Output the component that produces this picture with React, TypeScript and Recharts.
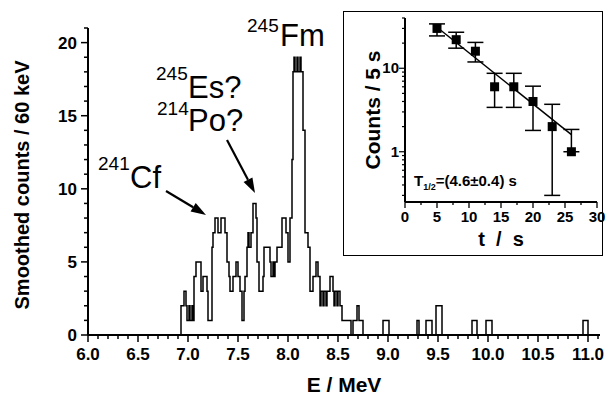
import React from "react";
import {
  LineChart,
  Line,
  XAxis,
  YAxis,
  ComposedChart,
  Scatter,
  ErrorBar,
} from "recharts";

const FONT = '"Liberation Sans", Arial, sans-serif';

// main spectrum: step edges (MeV) and smoothed counts from that edge on
const energyEdges = [
  6.0, 6.93, 6.96, 6.98, 6.99, 7.01, 7.02, 7.04, 7.05, 7.06,
  7.08, 7.13, 7.15, 7.19, 7.2, 7.24, 7.25, 7.27, 7.3, 7.33,
  7.37, 7.39, 7.41, 7.42, 7.45, 7.48, 7.5, 7.52, 7.54, 7.56,
  7.57, 7.59, 7.6, 7.61, 7.63, 7.65, 7.68, 7.69, 7.71, 7.75,
  7.76, 7.82, 7.83, 7.85, 7.86, 7.87, 7.89, 7.94, 7.98, 8.0,
  8.02, 8.04, 8.05, 8.06, 8.07, 8.09, 8.1, 8.12, 8.13, 8.15,
  8.17, 8.2, 8.22, 8.25, 8.28, 8.3, 8.32, 8.33, 8.35, 8.36,
  8.38, 8.39, 8.42, 8.45, 8.46, 8.47, 8.49, 8.5, 8.52, 8.54,
  8.63, 8.65, 8.69, 8.71, 8.75, 8.95, 9.01, 9.29, 9.31, 9.38,
  9.44, 9.48, 9.54, 9.84, 9.89, 9.98, 10.04, 10.95, 11.0, 11.12,
];
const smoothedCounts = [
  0, 2, 3, 2, 1, 2, 1, 2, 1, 4,
  5, 3, 4, 3, 1, 6, 7, 8, 7, 8,
  7, 5, 4, 3, 4, 5, 4, 3, 1, 3,
  4, 6, 7, 6, 7, 9, 8, 5, 3, 4,
  6, 5, 4, 5, 4, 5, 6, 8, 7, 5,
  8, 12, 18, 19, 18, 19, 18, 19, 18, 14,
  7, 6, 3, 4, 5, 4, 2, 3, 2, 3,
  2, 3, 4, 3, 2, 3, 2, 3, 2, 1,
  0, 1, 2, 1, 0, 1, 0, 1, 0, 1,
  0, 2, 0, 1, 0, 1, 0, 1, 0, 0,
];
const energyLabels = [6.0, 6.5, 7.0, 7.5, 8.0, 8.5, 9.0, 9.5, 10.0, 10.5, 11.0];
const countLabels = [0, 5, 10, 15, 20];

// inset: decay curve
const decayTimes = [5, 8, 11, 14, 17, 20, 23, 26];
const decayCounts = [30, 22, 16, 6, 6, 4, 2, 1];
const decayErrLow = [5.6, 4.6, 4.1, 2.6, 2.6, 2.2, 1.7, 0];
const decayErrHigh = [4, 5, 4.4, 2.7, 2.7, 2.1, 1.7, 0.85];
const fitTimes = [5, 26];
const fitCounts = [31, 1.6];
const timeLabels = [0, 5, 10, 15, 20, 25, 30];
const decayLabels = [1, 10];

const histData = energyEdges.map((e, i) => ({ e, c: smoothedCounts[i] }));
const decayData = decayTimes.map((t, i) => ({
  t,
  n: decayCounts[i],
  err: [decayErrLow[i], decayErrHigh[i]],
}));
const fitData = fitTimes.map((t, i) => ({ t, n: fitCounts[i] }));

const energyTicks = Array.from({ length: 52 }, (_, i) => Math.round(60 + i) / 10);
const countTicks = Array.from({ length: 22 }, (_, i) => i);
const timeTicks = Array.from({ length: 13 }, (_, i) => i * 2.5);
const decayTicks = [
  0.3, 0.4, 0.5, 0.6, 0.7, 0.8, 0.9, 1, 2, 3, 4, 5, 6, 7, 8, 9, 10, 20, 30, 40,
];

const near = (list: number[], v: number) => list.some((m) => Math.abs(m - v) < 1e-6);

function EnergyTick({ x, y, payload }: any) {
  const major = near(energyLabels, payload.value);
  return (
    <g>
      <line x1={x} x2={x} y1={y} y2={y + (major ? 7 : 4)} stroke="#000" strokeWidth={1.5} />
      {major && (
        <text x={x} y={y + 25} textAnchor="middle" fontSize={17} fontWeight="bold" fill="#000">
          {payload.value.toFixed(1)}
        </text>
      )}
    </g>
  );
}

function CountTick({ x, y, payload }: any) {
  const major = near(countLabels, payload.value);
  return (
    <g>
      <line x1={x} x2={x - (major ? 7 : 4)} y1={y} y2={y} stroke="#000" strokeWidth={1.5} />
      {major && (
        <text x={x - 11} y={y + 6} textAnchor="end" fontSize={17} fontWeight="bold" fill="#000">
          {payload.value}
        </text>
      )}
    </g>
  );
}

function TimeTick({ x, y, payload }: any) {
  const major = near(timeLabels, payload.value);
  return (
    <g>
      <line x1={x} x2={x} y1={y} y2={y + (major ? 6 : 3)} stroke="#000" strokeWidth={1.3} />
      {major && (
        <text x={x} y={y + 20} textAnchor="middle" fontSize={15} fontWeight="bold" fill="#000">
          {payload.value}
        </text>
      )}
    </g>
  );
}

function DecayTick({ x, y, payload }: any) {
  const major = near(decayLabels, payload.value);
  return (
    <g>
      <line x1={x} x2={x - (major ? 6 : 3)} y1={y} y2={y} stroke="#000" strokeWidth={1.2} />
      {major && (
        <text x={x - 6} y={y + 5} textAnchor="end" fontSize={15} fontWeight="bold" fill="#000">
          {payload.value}
        </text>
      )}
    </g>
  );
}

const Square = ({ cx, cy }: any) => (
  <rect x={cx - 4.5} y={cy - 4.5} width={9} height={9} fill="#000" />
);

function Inset() {
  // the svg is a bit wider than the framed box so the "30" label is not clipped
  return (
    <div
      style={{
        position: "absolute",
        left: 343,
        top: 11,
        width: 260,
        height: 245,
        background: "#fff",
      }}
    >
      <ComposedChart
        width={275}
        height={245}
        margin={{ top: 7, right: 21, bottom: 24, left: 0 }}
      >
        <XAxis
          type="number"
          dataKey="t"
          domain={[0, 30]}
          ticks={timeTicks}
          interval={0}
          tickSize={0}
          tickMargin={0}
          tickLine={false}
          tick={TimeTick}
          axisLine={{ stroke: "#000", strokeWidth: 2 }}
          height={30}
        />
        <YAxis
          type="number"
          scale="log"
          domain={[0.25, 40]}
          allowDataOverflow
          ticks={decayTicks}
          interval={0}
          tickSize={0}
          tickMargin={0}
          tickLine={false}
          tick={DecayTick}
          axisLine={{ stroke: "#000", strokeWidth: 2 }}
          width={62}
        />
        <Line
          data={fitData}
          dataKey="n"
          type="linear"
          stroke="#000"
          strokeWidth={1.5}
          dot={false}
          isAnimationActive={false}
        />
        <Scatter data={decayData} dataKey="n" shape={Square} isAnimationActive={false}>
          <ErrorBar dataKey="err" direction="y" width={8} stroke="#000" strokeWidth={1.5} />
        </Scatter>
      </ComposedChart>
      <div
        style={{
          position: "absolute",
          inset: 0,
          border: "1.3px solid #000",
          pointerEvents: "none",
        }}
      />
    </div>
  );
}

function Arrow({ x1, y1, x2, y2 }: { x1: number; y1: number; x2: number; y2: number }) {
  const a = Math.atan2(y2 - y1, x2 - x1);
  const len = 15;
  const w = 5;
  const bx = x2 - len * Math.cos(a);
  const by = y2 - len * Math.sin(a);
  const px = -Math.sin(a) * w;
  const py = Math.cos(a) * w;
  return (
    <g>
      <line x1={x1} y1={y1} x2={bx} y2={by} stroke="#000" strokeWidth={2.2} />
      <polygon points={`${x2},${y2} ${bx + px},${by + py} ${bx - px},${by - py}`} fill="#000" />
    </g>
  );
}

function Overlay() {
  return (
    <svg
      width={606}
      height={403}
      style={{ position: "absolute", left: 0, top: 0, pointerEvents: "none" }}
    >
      <g fill="#000">
        <text x={247} y={32} fontSize={19}>245</text>
        <text x={280} y={46} fontSize={31}>Fm</text>
        <text x={156} y={80} fontSize={19}>245</text>
        <text x={188} y={98} fontSize={31}>Es?</text>
        <text x={157} y={115} fontSize={19}>214</text>
        <text x={188} y={131} fontSize={31}>Po?</text>
        <text x={98} y={170} fontSize={19}>241</text>
        <text x={130} y={188} fontSize={31}>Cf</text>
      </g>
      <Arrow x1={166} y1={191} x2={206} y2={215} />
      <Arrow x1={227} y1={140} x2={255} y2={193} />

      <text
        transform="translate(29,185) rotate(-90)"
        textAnchor="middle"
        fontSize={20}
        fontWeight="bold"
      >
        Smoothed counts / 60 keV
      </text>
      <text x={344} y={392} textAnchor="middle" fontSize={21} fontWeight="bold">
        E / MeV
      </text>

      <text
        transform="translate(380,110) rotate(-90)"
        textAnchor="middle"
        fontSize={21}
        fontWeight="bold"
      >
        Counts / 5 s
      </text>
      <text x={501} y={246} textAnchor="middle" fontSize={20} fontWeight="bold" xmlSpace="preserve">
        t  /  s
      </text>
      <text x={414} y={186} fontSize={15} fontWeight="bold">
        T
        <tspan fontSize={9} dy={4}>1/2</tspan>
        <tspan dy={-4}>=(4.6±0.4) s</tspan>
      </text>
    </svg>
  );
}

export default function App() {
  return (
    <div style={{ position: "relative", width: 606, height: 403, fontFamily: FONT, background: "#fff", overflow: "hidden" }}>
      <style>{"body{margin:0}"}</style>
      <LineChart
        width={606}
        height={403}
        data={histData}
        margin={{ top: 28, right: 6, bottom: 28, left: 0 }}
      >
        <XAxis
          type="number"
          dataKey="e"
          domain={[6, 11.12]}
          allowDataOverflow
          ticks={energyTicks}
          interval={0}
          tickSize={0}
          tickMargin={0}
          tickLine={false}
          tick={EnergyTick}
          axisLine={{ stroke: "#000", strokeWidth: 2 }}
          height={40}
        />
        <YAxis
          type="number"
          domain={[0, 21]}
          ticks={countTicks}
          interval={0}
          tickSize={0}
          tickMargin={0}
          tickLine={false}
          tick={CountTick}
          axisLine={{ stroke: "#000", strokeWidth: 2 }}
          width={88}
        />
        <Line
          type="stepAfter"
          dataKey="c"
          stroke="#000"
          strokeWidth={1.5}
          dot={false}
          isAnimationActive={false}
        />
      </LineChart>
      <Inset />
      <Overlay />
    </div>
  );
}
